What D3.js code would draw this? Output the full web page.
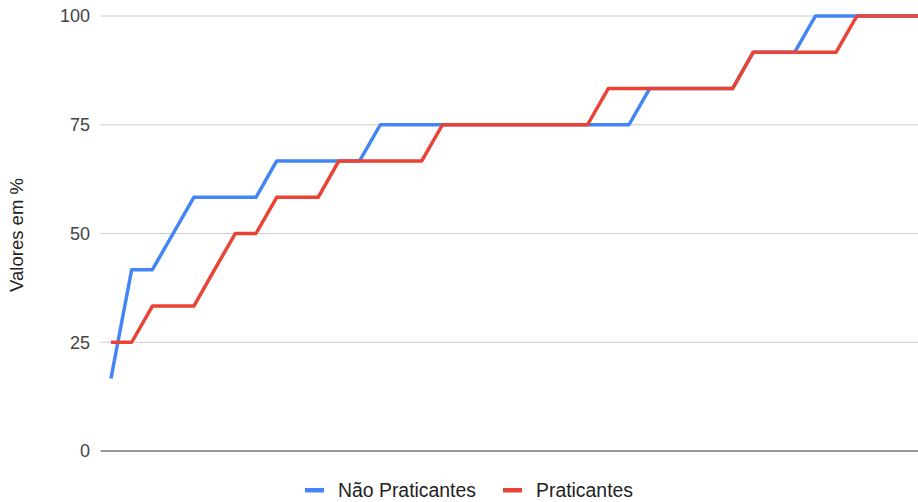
<!DOCTYPE html>
<html><head><meta charset="utf-8">
<script src="https://cdn.jsdelivr.net/npm/d3@7"></script>
<style>body{margin:0;background:#fff;} svg{display:block;}</style>
</head><body>
<svg id="chart" width="918" height="502"></svg>
<script>
const categories = d3.range(1, 41).map(String);
const naoPraticantes = [16.67,41.67,41.67,50,58.33,58.33,58.33,58.33,66.67,66.67,66.67,66.67,66.67,75,75,75,75,75,75,75,75,75,75,75,75,75,83.33,83.33,83.33,83.33,83.33,91.67,91.67,91.67,100,100,100,100,100,100];
const praticantes = [25,25,33.33,33.33,33.33,41.67,50,50,58.33,58.33,58.33,66.67,66.67,66.67,66.67,66.67,75,75,75,75,75,75,75,75,83.33,83.33,83.33,83.33,83.33,83.33,83.33,91.67,91.67,91.67,91.67,91.67,100,100,100,100];
const yTicks = [0,25,50,75,100];
const seriesNames = ["Não Praticantes","Praticantes"];
const colors = ["#4285F4","#EA4335"];

(function(){
const svg = d3.select("#chart");
const pLeft = 100.6, pRight = 929.4, pTop = 16, pBottom = 451;
const x = d3.scalePoint().domain(categories).range([pLeft, pRight]).padding(0.5);
const y = d3.scaleLinear().domain([0,100]).range([pBottom, pTop]);
const font = "Arial, 'Liberation Sans', sans-serif";

svg.append("g").selectAll("line").data(yTicks.filter(t=>t!==0)).join("line")
  .attr("x1", pLeft).attr("x2", 918).attr("y1", d=>y(d)).attr("y2", d=>y(d))
  .attr("stroke", "#cccccc").attr("stroke-width", 1);
svg.append("g").selectAll("text").data(yTicks).join("text")
  .attr("x", 90).attr("y", d=>y(d)).attr("dy", "0.35em")
  .attr("text-anchor","end").attr("font-family", font).attr("font-size", 18)
  .attr("fill","#444").text(d=>d);
svg.append("text").attr("transform", `translate(23,235) rotate(-90)`)
  .attr("text-anchor","middle").attr("font-family", font).attr("font-size", 18.5)
  .attr("fill","#222").text("Valores em %");

const line = d3.line().x((d,i)=>x(categories[i])).y(d=>y(d));
[naoPraticantes, praticantes].forEach((s,k)=>{
  svg.append("path").datum(s).attr("d", line).attr("fill","none")
    .attr("stroke", colors[k]).attr("stroke-width", 3.5).attr("stroke-linejoin","round");
});
svg.append("line").attr("x1", pLeft).attr("x2", 918).attr("y1", y(0)).attr("y2", y(0))
  .attr("stroke","#333").attr("stroke-width",1);

const legendX = [305, 503];
seriesNames.forEach((n,k)=>{
  const g = svg.append("g").attr("transform", `translate(${legendX[k]},490)`);
  g.append("rect").attr("x",0).attr("y",-2).attr("width",19).attr("height",4.5).attr("fill",colors[k]);
  g.append("text").attr("x",33).attr("y",0).attr("dy","0.35em").attr("font-family",font)
    .attr("font-size",19.4).attr("fill","#222").text(n);
});
})();
</script>
</body></html>
